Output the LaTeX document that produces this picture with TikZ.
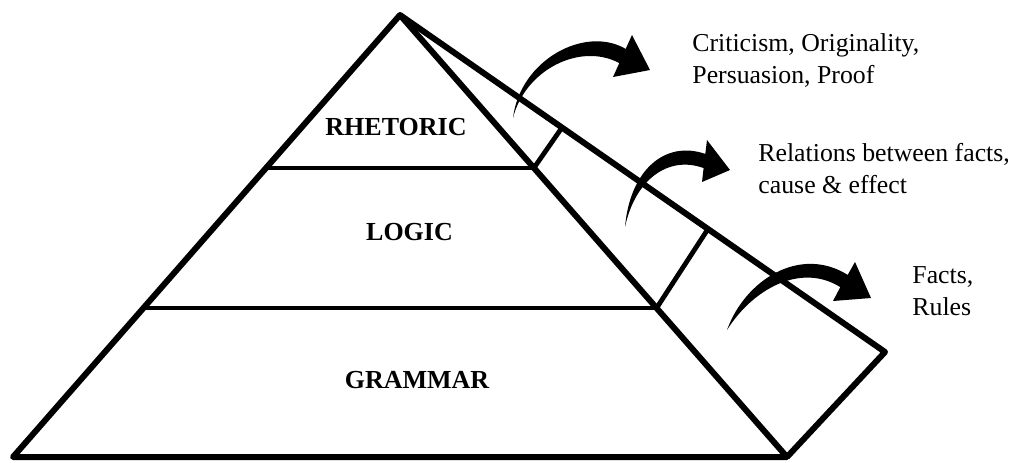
\documentclass[tikz,border=0pt]{standalone}
\usepackage{fontspec}
\setmainfont{Liberation Serif}
\usetikzlibrary{calc}

\begin{document}
\begin{tikzpicture}[x=0.5pt, y=-0.5pt,
    level/.style={font=\fontsize{13}{15}\selectfont\bfseries, inner sep=0pt, anchor=base},
    note/.style={font=\fontsize{12.9}{15.8}\selectfont, align=left, inner sep=0pt, anchor=base west},
    edge/.style={line width=3pt, line join=round},
    band/.style={line width=2.4pt}]
  \useasboundingbox (0,0) rectangle (1018,462);
  % pyramid and its side face
  \coordinate (apex) at (400,15);
  \coordinate (bl) at (13,457);
  \coordinate (br) at (787,457);
  \coordinate (far) at (885,352);
  \coordinate (l1) at ($(apex)!0.346!(bl)$);
  \coordinate (r1) at ($(apex)!0.346!(br)$);
  \coordinate (l2) at ($(apex)!0.663!(bl)$);
  \coordinate (r2) at ($(apex)!0.663!(br)$);
  \coordinate (f1) at ($(apex)!0.334!(far)$);
  \coordinate (f2) at ($(apex)!0.635!(far)$);
  \draw[edge] (apex) -- (bl) -- (br) -- cycle;
  \draw[edge] (apex) -- (far) -- (br);
  \draw[band] (l1) -- (r1);
  \draw[band] (l2) -- (r2);
  \draw[band] (r1) -- (f1);
  \draw[band] (r2) -- (f2);
  % levels
  \node[level] (rhetoric) at (396,135) {RHETORIC};
  \node[level] (logic) at (409.5,240) {LOGIC};
  \node[level] (grammar) at (417,388) {GRAMMAR};
  % bent arrows
  \fill (513,118) .. controls (520,60) and (585,25) .. (625.7,48.9) -- (632,35) -- (650,70)
    -- (613,77) -- (619.3,63.1) .. controls (580,42) and (525,70) .. (513,118) -- cycle;
  \fill (625,227) .. controls (630,170) and (665,140) .. (705.3,153.9) -- (707,140) -- (730,170)
    -- (702,182) -- (703.6,168.1) .. controls (668,155) and (635,180) .. (625,227) -- cycle;
  \fill (727,330) .. controls (745,280) and (800,245) .. (847.7,274.9) -- (855,262) -- (871,298)
    -- (833,301) -- (840.3,287.1) .. controls (800,262) and (752,290) .. (727,330) -- cycle;
  % what each level gives
  \node[note] (upper) at (692,83) {Criticism, Originality,\\Persuasion, Proof};
  \node[note] (middle) at (758,193) {Relations between facts,\\cause \& effect};
  \node[note] (lower) at (912,315) {Facts,\\Rules};
\end{tikzpicture}
\end{document}
